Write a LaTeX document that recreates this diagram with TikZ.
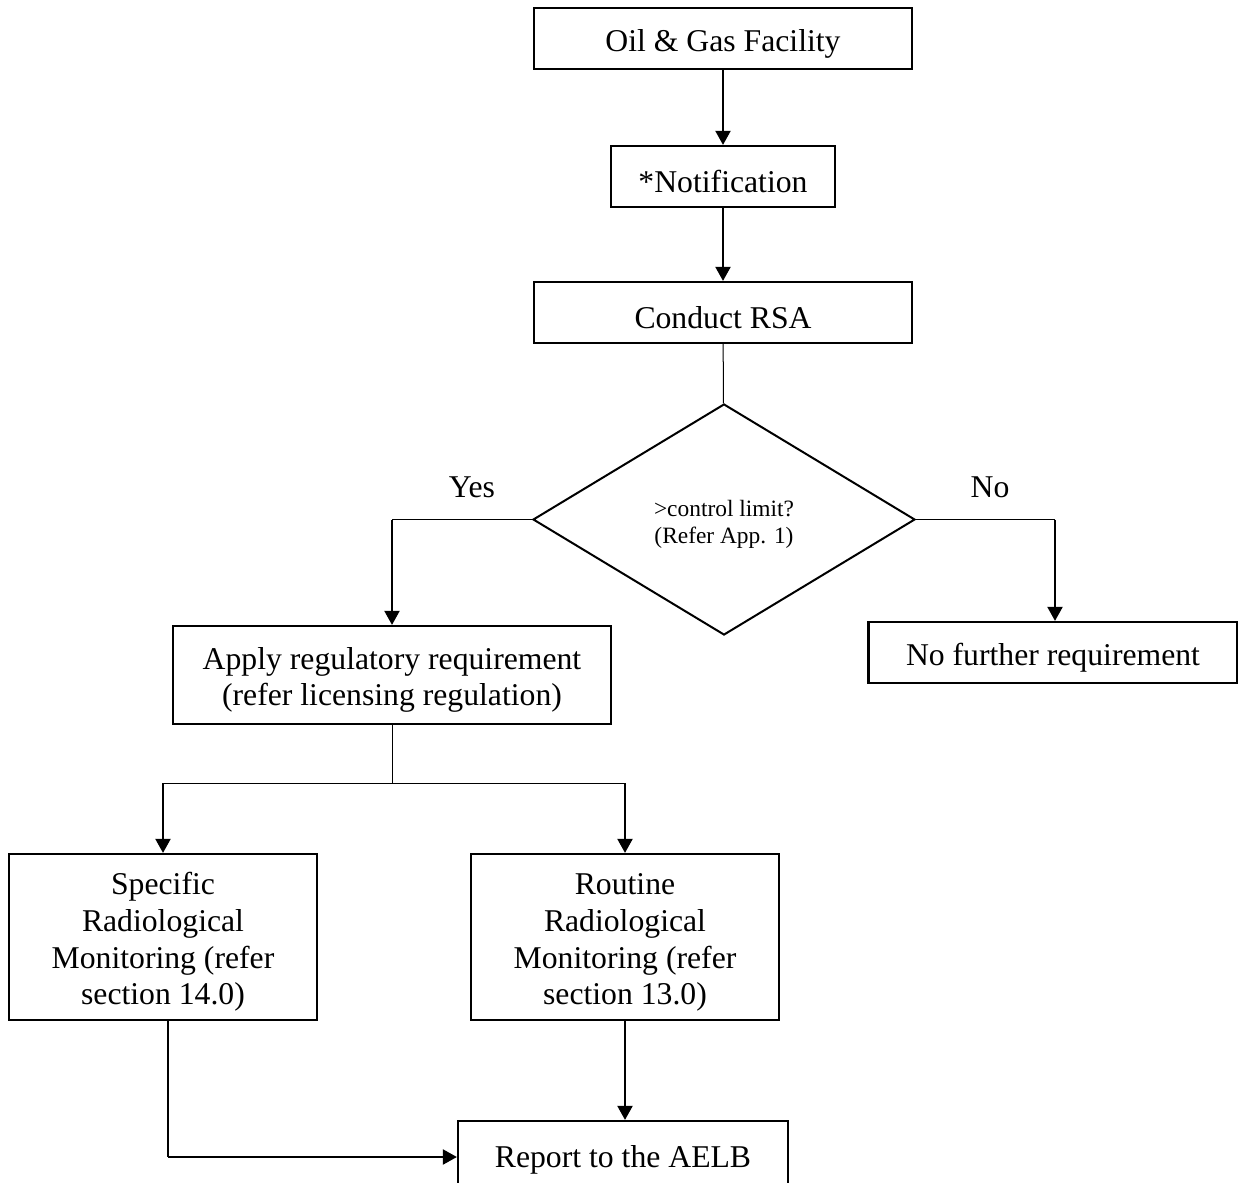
\documentclass[tikz,border=0pt]{standalone}
\usepackage{fontspec}
\setmainfont{Liberation Serif}
\usetikzlibrary{shapes.geometric,arrows.meta}
\newcommand\bxstrut{\rule{0pt}{32pt}}
\newcommand\dmstrut{\rule{0pt}{26pt}}
\tikzset{
  box/.style={draw, line width=2.2pt, rectangle, inner sep=0pt, align=center,
    font=\fontsize{31.7}{36.8}\selectfont},
  dec/.style={draw, line width=2pt, diamond, inner sep=0pt, aspect=1.654,
    minimum width=382pt, minimum height=231pt, align=center,
    font=\fontsize{23.4}{27}\selectfont},
  lbl/.style={inner sep=0pt, font=\fontsize{31.7}{36.8}\selectfont},
  thinline/.style={line width=1pt},
  arr/.style={line width=2pt, -{Triangle[width=15pt,length=14pt]}}
}
\begin{document}
\begin{tikzpicture}[x=1pt,y=-1pt]
\useasboundingbox (0,0) rectangle (1238,1182);
\node[box, minimum width=378pt, minimum height=61pt] (oil) at (723,38.5) {\bxstrut Oil \& Gas Facility};
\node[box, minimum width=224pt, minimum height=61pt] (notif) at (723,176.5) {\bxstrut*Notification};
\node[box, minimum width=378pt, minimum height=61pt] (rsa) at (723,312.5) {\bxstrut Conduct RSA};
\node[dec] (dia) at (724,519.5) {\dmstrut>control limit?\\(Refer App. 1)};
\node[lbl] (yes) at (472,487) {Yes};
\node[lbl] (no) at (990,487) {No};
\node[box, minimum width=438pt, minimum height=98pt] (apply) at (392,675) {\bxstrut Apply regulatory requirement\\(refer licensing regulation)};
\node[box, minimum width=369pt, minimum height=61pt] (nofur) at (1053,652.5) {\bxstrut No further requirement};
\node[box, minimum width=308pt, minimum height=166pt] (spec) at (163,937) {\bxstrut Specific\\Radiological\\Monitoring (refer\\section 14.0)};
\node[box, minimum width=308pt, minimum height=166pt] (rout) at (625,937) {\bxstrut Routine\\Radiological\\Monitoring (refer\\section 13.0)};
\node[box, minimum width=330pt, minimum height=72pt] (rep) at (623,1157) {\rule{0pt}{28pt}Report to the AELB};
\coordinate (yc) at (392,519.5);
\coordinate (nc) at (1055,519.5);
\coordinate (bm) at (392,783);
\coordinate (bl) at (163,783);
\coordinate (br) at (625,783);
\coordinate (sc) at (168,1157);
\draw[arr] (oil) -- (notif);
\draw[arr] (notif) -- (rsa);
\draw[thinline] (rsa) -- (dia);
\draw[thinline] (dia.west) -- (yc);
\draw[arr] (yc) -- (apply.north);
\draw[thinline] (dia.east) -- (nc);
\draw[arr] (nc) -- (nc |- nofur.north);
\draw[thinline] (apply.south) -- (bm);
\draw[thinline] (bl) -- (br);
\draw[arr] (bl) -- (spec.north);
\draw[arr] (br) -- (rout.north);
\draw[arr] (rout.south) -- (rout.south |- rep.north);
\draw[line width=2pt] (spec.south -| sc) -- (sc);
\draw[arr] (sc) -- (rep.west);
\end{tikzpicture}
\end{document}
